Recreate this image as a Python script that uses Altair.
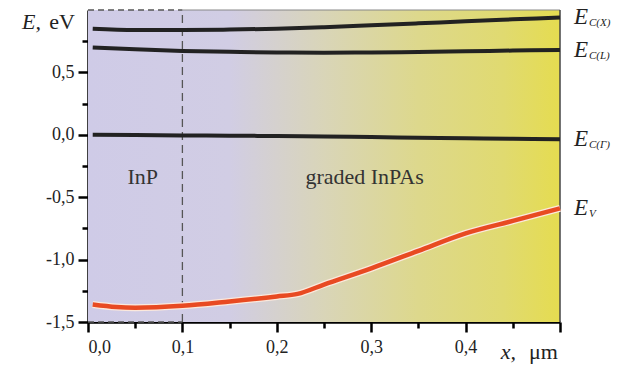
import altair as alt
import pandas as pd

# ---- data ----
x_vals = [0.005, 0.05, 0.1, 0.15, 0.2, 0.25, 0.3, 0.35, 0.4, 0.45, 0.5]
ec_x = [0.85, 0.84, 0.84, 0.843, 0.85, 0.862, 0.877, 0.893, 0.91, 0.925, 0.94]
ec_l = [0.70, 0.685, 0.672, 0.665, 0.66, 0.658, 0.66, 0.664, 0.669, 0.675, 0.68]
ec_g = [0.0, -0.002, -0.005, -0.007, -0.01, -0.014, -0.018, -0.023, -0.028, -0.032, -0.035]
ev_x = [0.005, 0.03, 0.05, 0.1, 0.15, 0.2, 0.222, 0.25, 0.3, 0.35, 0.4, 0.45, 0.5]
ev = [-1.36, -1.38, -1.385, -1.37, -1.335, -1.295, -1.275, -1.2, -1.07, -0.93, -0.79, -0.69, -0.59]

band_names = ["C(X)", "C(L)", "C(Γ)", "V"]
band_end = [0.94, 0.68, -0.035, -0.59]

x_ticks = [0.0, 0.05, 0.1, 0.15, 0.2, 0.25, 0.3, 0.35, 0.4, 0.45, 0.5]
y_ticks = [-1.5, -1.25, -1.0, -0.75, -0.5, -0.25, 0.0, 0.25, 0.5, 0.75]
x_domain = [0.0, 0.5]
y_domain = [-1.5, 1.0]
inp_boundary = 0.1

region_labels = ["InP", "graded InPAs"]
region_x = [0.058, 0.293]
region_y = [-0.34, -0.34]

W, H = 472, 312
serif = "Liberation Serif, Times New Roman, serif"

xs = alt.Scale(domain=x_domain, nice=False, zero=False)
ys = alt.Scale(domain=y_domain, nice=False, zero=False)

xaxis = alt.Axis(
    values=x_ticks, title=None, grid=False,
    labelExpr="datum.value > 0.45 ? '' : (abs(datum.value*10 - round(datum.value*10)) < 0.01 ? replace(format(datum.value, '.1f'), '.', ',') : '')",
    tickSize={"condition": {"test": "abs(datum.value*10 - round(datum.value*10)) < 0.01", "value": 10}, "value": 6},
    labelPadding=6,
)
yaxis = alt.Axis(
    values=y_ticks, title=None, grid=False,
    labelExpr="abs(datum.value*2 - round(datum.value*2)) < 0.01 ? (datum.value < 0 ? '-' : '') + replace(format(abs(datum.value), '.1f'), '.', ',') : ''",
    tickSize={"condition": {"test": "abs(datum.value*2 - round(datum.value*2)) < 0.01", "value": 10}, "value": 6},
    labelPadding=4,
)

def X(): return alt.X("x:Q", scale=xs, axis=xaxis)
def Y(): return alt.Y("y:Q", scale=ys, axis=yaxis)

bg_df = pd.DataFrame({"x": [x_domain[0]], "x2": [x_domain[1]], "y": [y_domain[0]], "y2": [y_domain[1]]})
bg = alt.Chart(bg_df).mark_rect(
    fill=alt.Gradient(
        gradient="linear", x1=0, x2=1, y1=0, y2=0,
        stops=[
            alt.GradientStop(offset=0.0, color="#cfcbe7"),
            alt.GradientStop(offset=0.3, color="#d1cde4"),
            alt.GradientStop(offset=0.5, color="#d9d5b8"),
            alt.GradientStop(offset=0.7, color="#ddd88c"),
            alt.GradientStop(offset=0.88, color="#e0da70"),
            alt.GradientStop(offset=1.0, color="#e5dc50"),
        ],
    )
).encode(x=X(), x2="x2:Q", y=Y(), y2="y2:Q")

# borders
border_top_df = pd.DataFrame({"x": [inp_boundary], "x2": [x_domain[1]], "y": [y_domain[1]]})
top_border = alt.Chart(border_top_df).mark_rule(color="#888", strokeWidth=1).encode(x=X(), x2="x2:Q", y=Y())
right_df = pd.DataFrame({"x": [x_domain[1]], "y": [y_domain[0]], "y2": [y_domain[1]]})
right_border = alt.Chart(right_df).mark_rule(color="#444", strokeWidth=1.5).encode(x=X(), y=Y(), y2="y2:Q")

dash_h_df = pd.DataFrame({"x": [x_domain[0], x_domain[0]], "x2": [inp_boundary, inp_boundary], "y": [y_domain[1], y_domain[0]]})
dash_h = alt.Chart(dash_h_df).mark_rule(color="#555", strokeWidth=1.3, strokeDash=[6, 4]).encode(x=X(), x2="x2:Q", y=Y())
dash_v_df = pd.DataFrame({"x": [inp_boundary], "y": [y_domain[0]], "y2": [y_domain[1]]})
dash_v = alt.Chart(dash_v_df).mark_rule(color="#555", strokeWidth=1.3, strokeDash=[8, 5]).encode(x=X(), y=Y(), y2="y2:Q")

# band lines
rows = []
for name, vals in zip(["X", "L", "G"], [ec_x, ec_l, ec_g]):
    for xv, yv in zip(x_vals, vals):
        rows.append({"band": name, "x": xv, "y": yv})
cb_df = pd.DataFrame(rows)
cb = alt.Chart(cb_df).mark_line(color="#222", strokeWidth=4, interpolate="monotone").encode(
    x=X(), y=Y(), detail="band:N")

ev_df = pd.DataFrame({"x": ev_x, "y": ev})
ev_halo = alt.Chart(ev_df).mark_line(color="#fbe8dc", strokeWidth=7, interpolate="monotone").encode(x=X(), y=Y())
ev_line = alt.Chart(ev_df).mark_line(color="#e84a22", strokeWidth=4.5, interpolate="monotone").encode(x=X(), y=Y())

# region labels
reg_df = pd.DataFrame({"t": region_labels, "x": region_x, "y": region_y})
reg = alt.Chart(reg_df).mark_text(font=serif, fontSize=22, color="#333", align="center", baseline="middle").encode(
    x=X(), y=Y(), text="t:N")

# band end labels
lab_df = pd.DataFrame({"sub": band_names, "y": band_end, "x": [x_domain[1]] * 4})
lab_E = alt.Chart(lab_df).mark_text(font=serif, fontSize=23, fontStyle="italic", color="#222",
                                    align="left", baseline="middle", dx=14).encode(
    x=X(), y=Y(), text=alt.value("E"))
lab_sub = alt.Chart(lab_df).mark_text(font=serif, fontSize=11, fontStyle="italic", color="#222",
                                      align="left", baseline="middle", dx=29, dy=6).encode(
    x=X(), y=Y(), text="sub:N")

# axis titles
ytitle_df = pd.DataFrame({"x": [x_domain[0]], "y": [y_domain[1]]})
ytitle = alt.Chart(ytitle_df).mark_text(font=serif, fontSize=22, color="#222", align="right",
                                        baseline="middle", dx=-13, dy=12).encode(
    x=X(), y=Y(), text=alt.value("eV"))
ytitle_E = alt.Chart(ytitle_df).mark_text(font=serif, fontSize=22, fontStyle="italic", color="#222", align="right",
                                          baseline="middle", dx=-47, dy=12).encode(
    x=X(), y=Y(), text=alt.value("E,"))
xtitle_df = pd.DataFrame({"x": [x_domain[1]], "y": [y_domain[0]]})
xtitle = alt.Chart(xtitle_df).mark_text(font=serif, fontSize=22, color="#222", align="right",
                                        baseline="middle", dx=-2, dy=30).encode(
    x=X(), y=Y(), text=alt.value("μm"))
xtitle_x = alt.Chart(xtitle_df).mark_text(font=serif, fontSize=22, fontStyle="italic", color="#222", align="right",
                                          baseline="middle", dx=-44, dy=30).encode(
    x=X(), y=Y(), text=alt.value("x,"))

chart = alt.layer(
    bg, top_border, right_border, dash_h, dash_v, cb, ev_halo, ev_line, reg,
    lab_E, lab_sub, ytitle, ytitle_E, xtitle, xtitle_x,
).properties(
    width=W, height=H,
    autosize=alt.AutoSizeParams(type="none"),
    padding={"left": 88, "top": 10, "right": 59, "bottom": 43},
    background="white",
).configure_view(stroke=None).configure_axis(
    labelFont=serif, labelFontSize=18, labelColor="#222",
    domainColor="black", domainWidth=2.5, tickColor="black", tickWidth=2.5,
)

chart.save("out.html", embed_options={"renderer": "svg", "actions": False})
